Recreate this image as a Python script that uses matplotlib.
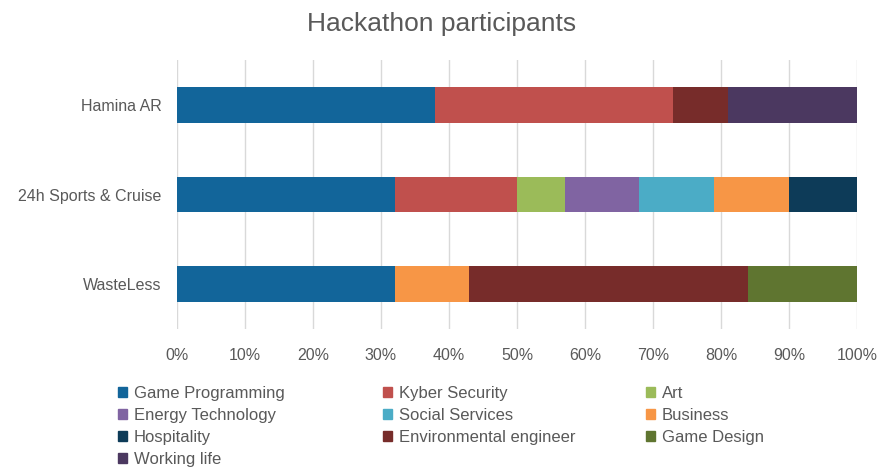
import numpy as np
import matplotlib.pyplot as plt
from matplotlib.patches import Patch
from matplotlib.ticker import PercentFormatter

plt.rcParams['font.family'] = ['Liberation Sans', 'DejaVu Sans']

projects = ['WasteLess', '24h Sports & Cruise', 'Hamina AR']
fields = ['Game Programming', 'Kyber Security', 'Art', 'Energy Technology',
          'Social Services', 'Business', 'Hospitality', 'Environmental engineer',
          'Game Design', 'Working life']
colors = ['#12659a', '#c0504d', '#9bbb59', '#8064a2', '#4bacc6', '#f79646',
          '#0d3b58', '#772c2a', '#5f7530', '#4b3860']

# share of participants (%) per field, same order as fields
shares = {
    'WasteLess':           [32, 0, 0, 0, 0, 11, 0, 41, 16, 0],
    '24h Sports & Cruise': [32, 18, 7, 11, 11, 11, 10, 0, 0, 0],
    'Hamina AR':           [38, 35, 0, 0, 0, 0, 0, 8, 0, 19],
}

grey = '#595959'
fig = plt.figure(figsize=(8.83, 4.67), dpi=100)
ax = fig.add_axes([177 / 883, 1 - 329 / 467, 680 / 883, 269 / 467])

y = np.arange(len(projects))
for i, p in enumerate(projects):
    left = 0.0
    for j, v in enumerate(shares[p]):
        if v > 0:
            ax.barh(i, v, left=left, height=0.4, color=colors[j], linewidth=0)
        left += v

ax.set_xlim(0, 100)
ax.set_ylim(-0.5, 2.5)
ax.set_xticks(np.arange(0, 101, 10))
ax.xaxis.set_major_formatter(PercentFormatter(decimals=0))
ax.set_yticks(y)
ax.set_yticklabels(projects)
ax.grid(axis='x', color='#d9d9d9', linewidth=1)
ax.set_axisbelow(True)
for s in ax.spines.values():
    s.set_visible(False)
ax.tick_params(axis='both', length=0, colors=grey, labelsize=11.5)
ax.tick_params(axis='y', pad=11)
ax.tick_params(axis='x', pad=14)

fig.text(0.5, 1 - 24 / 467, 'Hackathon participants', ha='center', va='center',
         fontsize=19, color=grey)

# legend laid out row by row in three fixed columns
col_x = [118, 383, 646]
for k in range(3):
    idx = list(range(k, len(fields), 3))
    handles = [Patch(color=colors[j], label=fields[j]) for j in idx]
    leg = fig.legend(handles=handles, loc='upper left',
                     bbox_to_anchor=(col_x[k] / 883, 1 - 386 / 467),
                     frameon=False, fontsize=12, handlelength=0.55,
                     handleheight=0.55, handletextpad=0.4, labelspacing=0.42,
                     borderaxespad=0, borderpad=0)
    for t in leg.get_texts():
        t.set_color(grey)

fig.savefig('out.png', dpi=100)
